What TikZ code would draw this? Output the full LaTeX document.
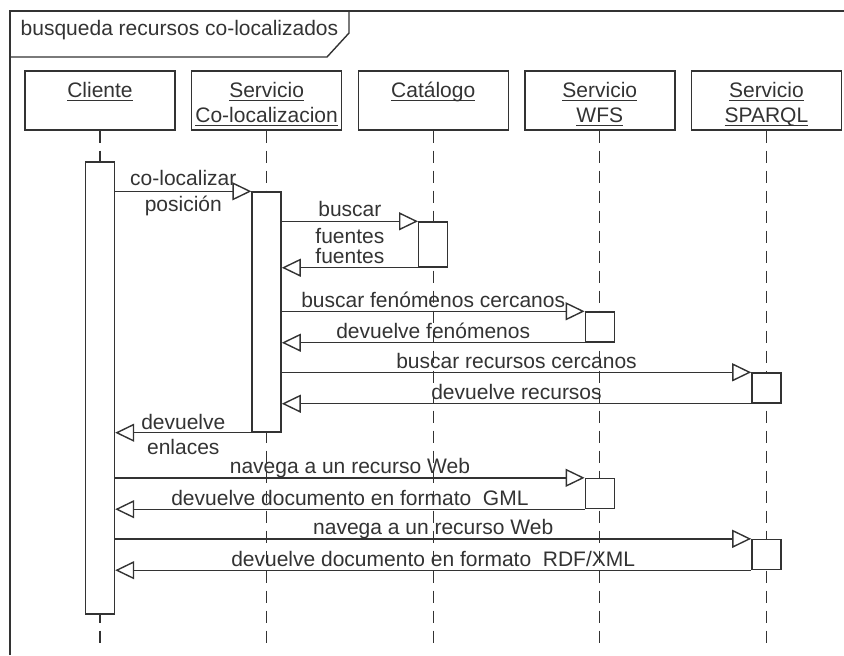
\documentclass[tikz,border=0pt]{standalone}
\usepackage{fontspec}
\setmainfont{Liberation Sans}
\usetikzlibrary{arrows.meta,positioning,calc}

\newcommand{\ulbl}[1]{\underline{\raisebox{0pt}[\height][0pt]{#1}}}

\begin{document}
\begin{tikzpicture}[
    x=0.5pt, y=-0.5pt,
    color=black!80,
    line width=0.7pt,
    font=\fontsize{10.5}{12.5}\selectfont,
    node distance=7.6pt,
    head/.style={rectangle, draw, minimum width=75pt, minimum height=29.5pt, inner sep=0pt},
    htext/.style={anchor=north, align=center, inner sep=0pt, yshift=-5.5pt},
    act/.style={rectangle, draw, fill=white, minimum width=14.5pt, inner sep=0pt},
    life/.style={line width=0.6pt, dash pattern=on 6pt off 4pt},
    msg/.style={-{Triangle[open, length=9.5pt, width=9pt]}},
    lbl/.style={anchor=base, inner sep=0pt}
]
    \useasboundingbox (0,0) rectangle (844,655);

    % Frame and title tab
    \draw[line width=0.9pt] (10,655) -- (10,11) -- (844,11);
    \draw (10,57) -- (327,57) -- (349,33) -- (349,11);
    \node[lbl, anchor=base west] (title) at (20,35) {busqueda recursos co-localizados};

    % Lifeline heads
    \node[head] (cli) at (100,100.5) {};
    \node[head, right=of cli] (col) {};
    \node[head, right=of col] (cat) {};
    \node[head, right=of cat] (wfs) {};
    \node[head, right=of wfs] (spq) {};

    \node[htext] at (cli.north) {\ulbl{Cliente}};
    \node[htext] at (col.north) {\ulbl{Servicio}\\\ulbl{Co-localizacion}};
    \node[htext] at (cat.north) {\ulbl{Catálogo}};
    \node[htext] at (wfs.north) {\ulbl{Servicio}\\\ulbl{WFS}};
    \node[htext] at (spq.north) {\ulbl{Servicio}\\\ulbl{SPARQL}};

    % Lifelines
    \foreach \n in {cli,col,cat,wfs,spq}
        \draw[life] (\n.south) -- (\n.south |- 0,645);

    % Activations
    \node[act, minimum height=226pt] (acli) at (cli |- 0,388) {};
    \node[act, minimum height=120pt] (acol) at (col |- 0,312) {};
    \node[act, minimum height=22.5pt] (acat) at (cat |- 0,244.5) {};
    \node[act, minimum height=15pt] (awfs1) at (wfs |- 0,327) {};
    \node[act, minimum height=15pt] (aspq1) at (spq |- 0,388) {};
    \node[act, minimum height=15pt] (awfs2) at (wfs |- 0,493.5) {};
    \node[act, minimum height=15pt] (aspq2) at (spq |- 0,554.5) {};

    % Messages
    \draw[msg] (acli.east |- acol.north) -- (acol.north west)
        node[lbl, midway, yshift=2.8pt] {co-localizar}
        node[lbl, midway, yshift=-10.2pt] {posición};
    \draw[msg] (acol.east |- acat.north) -- (acat.north west)
        node[lbl, midway, yshift=2.5pt] {buscar}
        node[lbl, midway, yshift=-11.2pt] {fuentes};
    \draw[msg] (acat.south west) -- (acol.east |- acat.south)
        node[lbl, midway, yshift=2pt] {fuentes};
    \draw[msg] (acol.east |- awfs1.north) -- (awfs1.north west)
        node[lbl, midway, yshift=2pt] {buscar fenómenos cercanos};
    \draw[msg] (awfs1.south west) -- (acol.east |- awfs1.south)
        node[lbl, midway, yshift=2pt] {devuelve fenómenos};
    \draw[msg] (acol.east |- aspq1.north) -- (aspq1.north west)
        node[lbl, midway, yshift=2pt] {buscar recursos cercanos};
    \draw[msg] (aspq1.south west) -- (acol.east |- aspq1.south)
        node[lbl, midway, yshift=2pt] {devuelve recursos};
    \draw[msg] (acol.south west) -- (acli.east |- acol.south)
        node[lbl, midway, yshift=1.8pt] {devuelve}
        node[lbl, midway, yshift=-11pt] {enlaces};
    \draw[msg] (acli.east |- awfs2.north) -- (awfs2.north west)
        node[lbl, midway, yshift=2pt] {navega a un recurso Web};
    \draw[msg] (awfs2.south west) -- (acli.east |- awfs2.south)
        node[lbl, midway, yshift=2pt] {devuelve documento en formato\ \ GML};
    \draw[msg] (acli.east |- aspq2.north) -- (aspq2.north west)
        node[lbl, midway, yshift=2pt] {navega a un recurso Web};
    \draw[msg] (aspq2.south west) -- (acli.east |- aspq2.south)
        node[lbl, midway, yshift=2pt] {devuelve documento en formato\ \ RDF/XML};
\end{tikzpicture}
\end{document}
